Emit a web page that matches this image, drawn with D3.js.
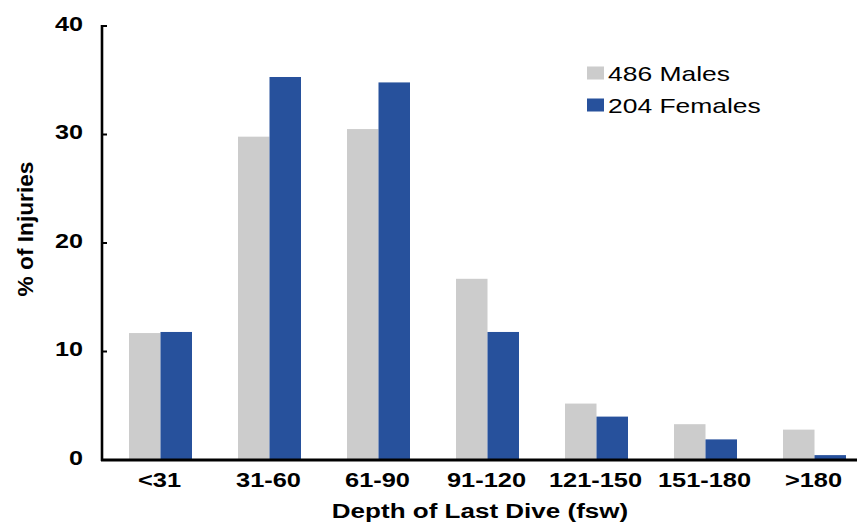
<!DOCTYPE html>
<html>
<head>
<meta charset="utf-8">
<script src="https://cdn.jsdelivr.net/npm/d3@7/dist/d3.min.js"></script>
<style>
  html, body { margin: 0; padding: 0; background: #fff; }
  svg { display: block; font-family: "Liberation Sans", Arial, Helvetica, sans-serif; }
</style>
</head>
<body>
<svg id="chart" width="859" height="522"></svg>
<script>
// ---- data ----
const categories = ["<31", "31-60", "61-90", "91-120", "121-150", "151-180", ">180"];
const males   = [11.7, 29.8, 30.5, 16.7, 5.2, 3.3, 2.8];
const females = [11.8, 35.3, 34.8, 11.8, 4.0, 1.9, 0.45];
const seriesNames = ["486 Males", "204 Females"];
const yTicks = [0, 10, 20, 30, 40];

// ---- styles ----
const colors = ["#cccccc", "#27519c"];
const svg = d3.select("#chart");

const x = d3.scaleBand().domain(categories).range([106, 869])
  .paddingInner(0.422).paddingOuter(0.211);
const y = d3.scaleLinear().domain([0, 40]).range([460, 26]);

function stretchText(sel, px, py, sx) {
  return sel.attr("x", 0).attr("y", 0)
    .attr("transform", `translate(${px},${py}) scale(${sx},1)`);
}

// bars
const seriesData = [males, females];
seriesData.forEach((vals, si) => {
  svg.append("g").selectAll("rect").data(categories).join("rect")
    .attr("x", c => x(c) + si * x.bandwidth() / 2)
    .attr("width", x.bandwidth() / 2)
    .attr("y", (c, i) => y(vals[i]))
    .attr("height", (c, i) => y(0) - y(vals[i]))
    .attr("fill", colors[si]);
});

// y axis line + inward ticks
svg.append("line").attr("x1", 102).attr("x2", 102)
  .attr("y1", y(40) - 1).attr("y2", y(0) + 1)
  .attr("stroke", "#000").attr("stroke-width", 2.6);
svg.append("g").selectAll("line").data(yTicks).join("line")
  .attr("x1", 102).attr("x2", 107)
  .attr("y1", d => y(d)).attr("y2", d => y(d))
  .attr("stroke", "#000").attr("stroke-width", 2);

// y tick labels
svg.append("g").selectAll("text").data(yTicks).join("text")
  .each(function(d) { stretchText(d3.select(this), 83, y(d) + 4.5, 1.26); })
  .attr("text-anchor", "end")
  .attr("font-size", 20).attr("font-weight", "bold").attr("fill", "#000")
  .text(d => d);

// x axis line
svg.append("line").attr("x1", 101).attr("x2", 857)
  .attr("y1", y(0)).attr("y2", y(0))
  .attr("stroke", "#000").attr("stroke-width", 3);

// x labels
svg.append("g").selectAll("text").data(categories).join("text")
  .each(function(c) { stretchText(d3.select(this), x(c) + x.bandwidth() / 2 - 1, 486.5, 1.27); })
  .attr("text-anchor", "middle")
  .attr("font-size", 20).attr("font-weight", "bold").attr("fill", "#000")
  .text(c => c);

// axis titles
stretchText(svg.append("text"), 480, 518, 1.24)
  .attr("text-anchor", "middle")
  .attr("font-size", 21).attr("font-weight", "bold").attr("fill", "#000")
  .text("Depth of Last Dive (fsw)");

svg.append("text")
  .attr("transform", "translate(33,229) rotate(-90)")
  .attr("text-anchor", "middle")
  .attr("font-size", 22.7).attr("font-weight", "bold").attr("fill", "#000")
  .text("% of Injuries");

// legend
const legendY = [81, 113];
seriesNames.forEach((name, i) => {
  svg.append("rect")
    .attr("x", 587).attr("y", legendY[i] - 14.5)
    .attr("width", 17).attr("height", 13)
    .attr("fill", colors[i]);
  stretchText(svg.append("text"), 608, legendY[i], 1.29)
    .attr("font-size", 20.5).attr("fill", "#000")
    .text(name);
});
</script>
</body>
</html>
